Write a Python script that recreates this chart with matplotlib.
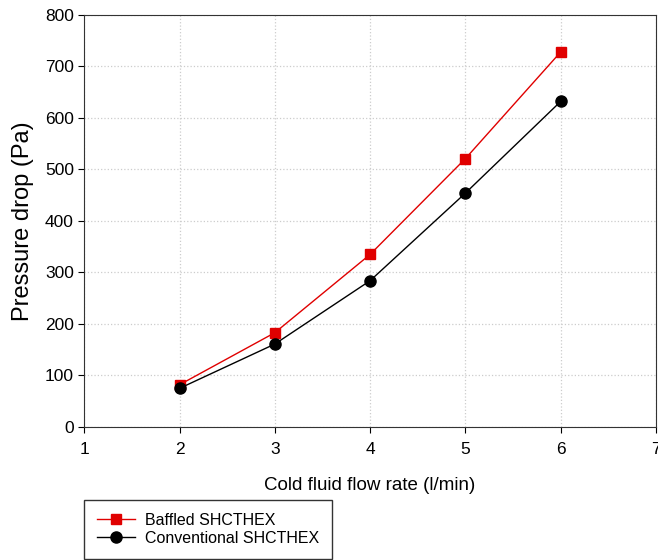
import matplotlib
matplotlib.use("Agg")
import matplotlib.pyplot as plt

plt.rcParams['font.family'] = ['Liberation Sans', 'DejaVu Sans']

# Veriler
flow_rate = [2, 3, 4, 5, 6]
baffled = [82, 183, 335, 521, 728]
conventional = [75, 161, 284, 454, 632]

fig = plt.figure(figsize=(6.58, 5.6), dpi=100)
ax = fig.add_axes([0.128, 0.2375, 0.869, 0.736])

ax.plot(flow_rate, baffled, color='#e00000', marker='s', markersize=7,
        linewidth=1, label='Baffled SHCTHEX')
ax.plot(flow_rate, conventional, color='black', marker='o', markersize=8,
        linewidth=1, label='Conventional SHCTHEX')

ax.set_xlim(1, 7)
ax.set_ylim(0, 800)
ax.set_xticks(range(1, 8))
ax.set_yticks(range(0, 801, 100))
ax.tick_params(direction='out', labelsize=12.5, length=4)
ax.tick_params(axis='x', pad=7)
ax.grid(True, linestyle=':', color='#cccccc', linewidth=0.9)
for s in ax.spines.values():
    s.set_color('#333333')

ax.set_xlabel("Cold fluid flow rate (l/min)", fontsize=13.5, labelpad=14)
ax.set_ylabel("Pressure drop (Pa)", fontsize=17, labelpad=8)

leg = fig.legend(loc='upper left', bbox_to_anchor=(0.128, 0.107),
                 borderaxespad=0, fontsize=11.5, frameon=True, fancybox=False,
                 edgecolor='black', borderpad=0.8, handlelength=2.4,
                 handletextpad=0.6, labelspacing=0.2)
leg.get_frame().set_linewidth(1)

fig.savefig("out.png", dpi=100)
